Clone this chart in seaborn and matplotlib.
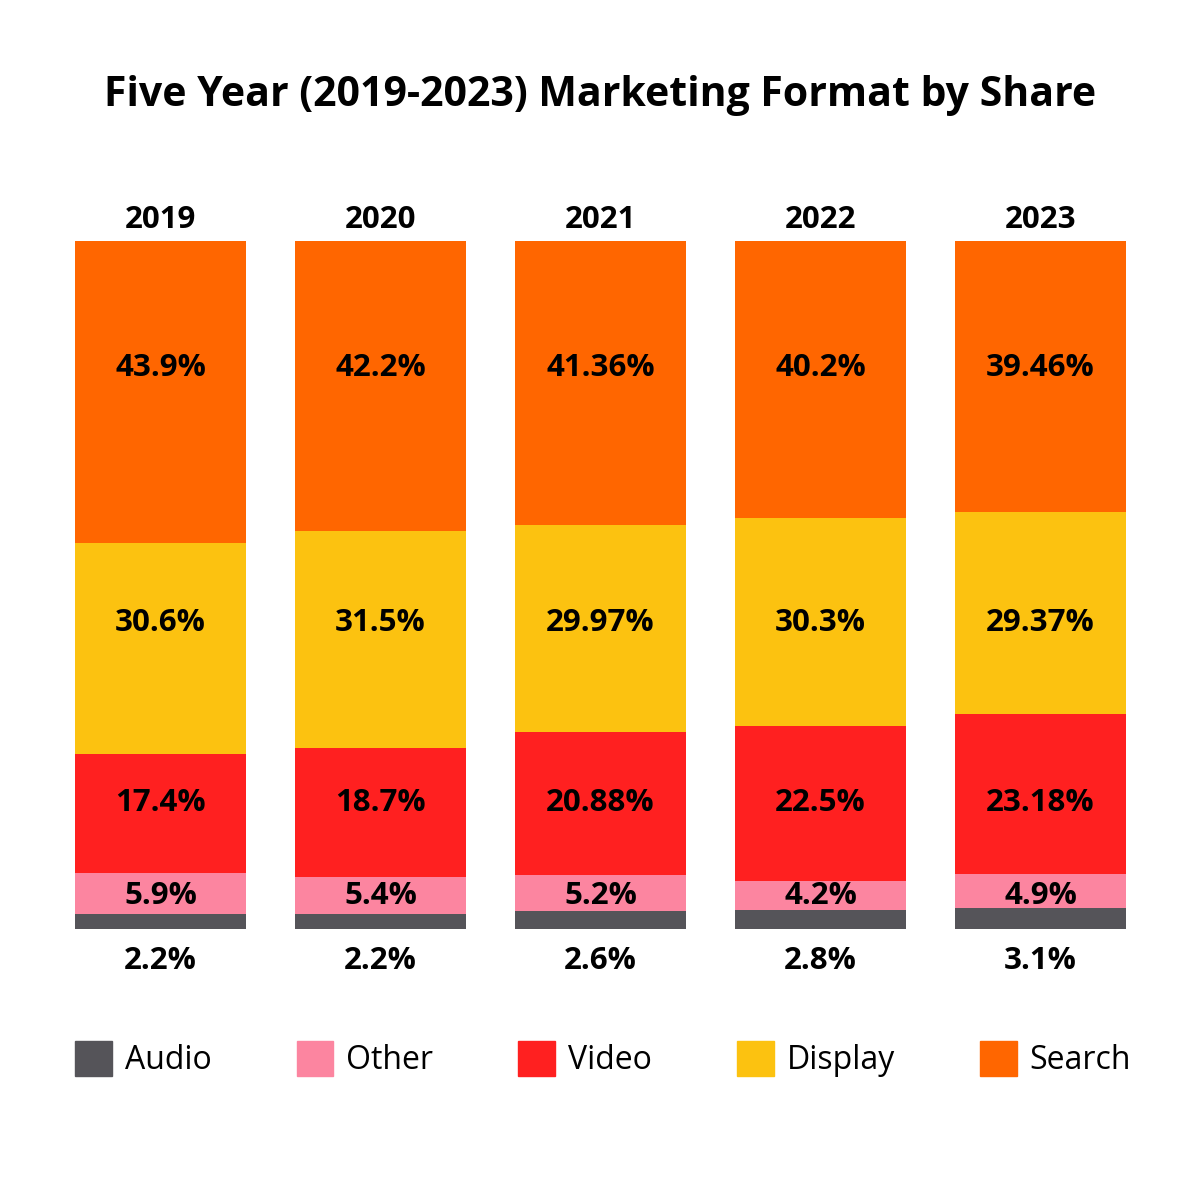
import matplotlib
matplotlib.use("Agg")
import matplotlib.pyplot as plt
import matplotlib.patches as mpatches
import seaborn as sns
import numpy as np
import pandas as pd

# data
years = ["2019", "2020", "2021", "2022", "2023"]
formats = ["Audio", "Other", "Video", "Display", "Search"]
audio = [2.2, 2.2, 2.6, 2.8, 3.1]
other = [5.9, 5.4, 5.2, 4.2, 4.9]
video = [17.4, 18.7, 20.88, 22.5, 23.18]
display = [30.6, 31.5, 29.97, 30.3, 29.37]
search = [43.9, 42.2, 41.36, 40.2, 39.46]
labels = {
    "Audio": ["2.2%", "2.2%", "2.6%", "2.8%", "3.1%"],
    "Other": ["5.9%", "5.4%", "5.2%", "4.2%", "4.9%"],
    "Video": ["17.4%", "18.7%", "20.88%", "22.5%", "23.18%"],
    "Display": ["30.6%", "31.5%", "29.97%", "30.3%", "29.37%"],
    "Search": ["43.9%", "42.2%", "41.36%", "40.2%", "39.46%"],
}
colors = {
    "Audio": "#555459",
    "Other": "#FC85A0",
    "Video": "#FF2020",
    "Display": "#FCC210",
    "Search": "#FF6600",
}
# the labels sit on one row per format, not centred in each segment
label_rows = {"Other": 4.8, "Video": 18.3, "Display": 44.5, "Search": 81.5}

sns.set_style("white")
plt.rcParams["font.family"] = ["Open Sans", "DejaVu Sans"]
plt.rcParams["text.color"] = "black"

df = pd.DataFrame({"year": years, "Audio": audio, "Other": other,
                   "Video": video, "Display": display, "Search": search})
cum = df[formats].cumsum(axis=1)

fig = plt.figure(figsize=(12, 12), dpi=100)
ax = fig.add_axes([50.5 / 1200, 271 / 1200, 1100 / 1200, 688 / 1200])

# stacked bars: draw cumulative totals from the top layer down
for f in reversed(formats):
    sns.barplot(x=df["year"], y=cum[f], color=colors[f], width=171 / 220,
                linewidth=0, saturation=1, ax=ax)

ax.set_xlim(-0.5, 4.5)
ax.set_ylim(0, 100)
ax.axis("off")

lab_kw = dict(ha="center", va="center", fontsize=22.5, fontweight="bold")
for i in range(len(years)):
    for f in formats[1:]:
        ax.text(i, label_rows[f], labels[f][i], **lab_kw)
    ax.text(i, -4.6, labels["Audio"][i], **lab_kw)
    ax.text(i, 103.0, years[i], **lab_kw)

fig.text(0.5, 1 - 95 / 1200, "Five Year (2019-2023) Marketing Format by Share",
         ha="center", va="center", fontsize=29.5, fontweight="bold")

handles = [mpatches.Patch(color=colors[f], label=f) for f in formats]
fig.legend(handles=handles, loc="center left", ncol=5, mode="expand",
           bbox_to_anchor=(75 / 1200, 1 - 1059 / 1200, 1056 / 1200, 0),
           frameon=False, fontsize=23, handlelength=1.15, handleheight=1.3,
           handletextpad=0.4, borderaxespad=0, borderpad=0)

fig.savefig("out.png", dpi=100, facecolor="white")
